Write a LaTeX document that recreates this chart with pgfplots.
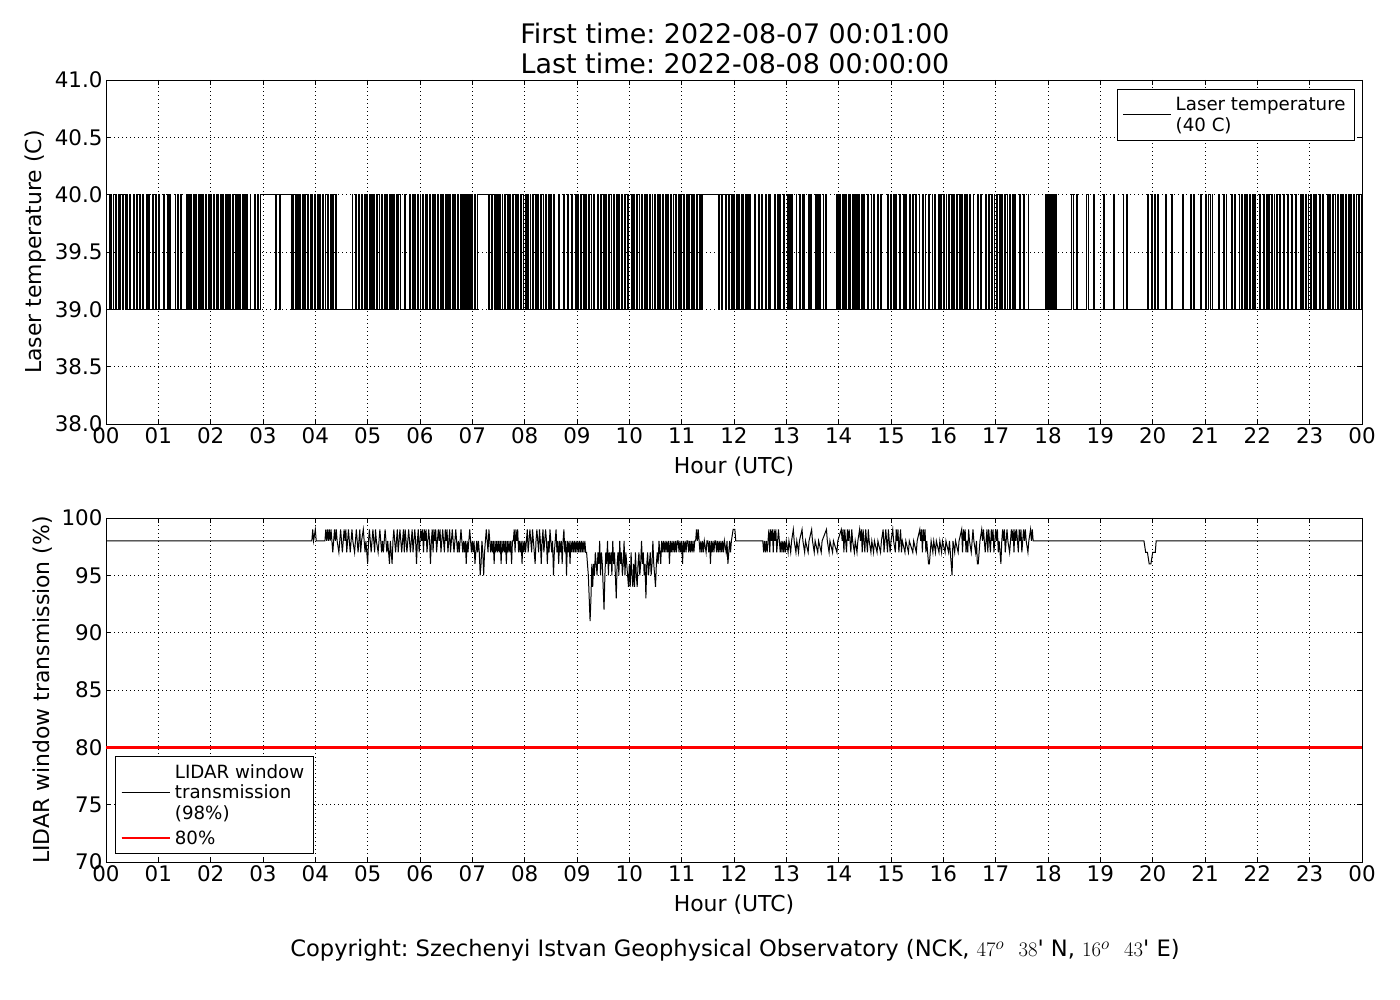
\documentclass[border=0pt]{standalone}
\usepackage{fontspec}
\setmainfont{DejaVu Sans}
\newfontfamily\dvnomap{DejaVu Sans}[Ligatures=TeXOff]
\usepackage{pgfplots}
\pgfplotsset{compat=1.18}
\frenchspacing
\pgfplotsset{
  lidarax/.style={
    scale only axis, width=1256bp, height=344bp,
    xmin=0, xmax=1440,
    xtick={0,60,...,1440},
    xticklabels={00,01,02,03,04,05,06,07,08,09,10,11,12,13,14,15,16,17,18,19,20,21,22,23,00},
    tick align=inside, major tick length=5bp,
    axis line style={line width=0.9bp},
    every tick/.style={black, line width=0.8bp},
    grid=major,
    major grid style={black, line width=0.7bp, dash pattern=on 1bp off 3bp},
    tick label style={font=\fontsize{21.5}{24}\selectfont},
    label style={font=\fontsize{22}{26}\selectfont},
    /pgf/number format/assume math mode=true,
    xlabel={Hour (UTC)},
    xlabel style={at={(axis description cs:0.5,-0.124)}, anchor=center},
    legend cell align=left,
    legend style={draw=black, line width=0.8bp, font=\fontsize{18.3}{20.5}\selectfont,
      cells={align=left}, inner xsep=5bp, inner ysep=3bp,
      nodes={inner xsep=4bp, inner ysep=5bp}},
    legend image code/.code={\draw[#1] (0bp,0bp) -- (37bp,0bp); \path (0bp,0bp) -- (48bp,0bp);},
  }
}
\begin{document}
\begin{tikzpicture}
\useasboundingbox (0,0) rectangle (1400bp,1000bp);
\node[anchor=base, font=\fontsize{27}{30}\selectfont] at (735bp,956.7bp) {First time: 2022-08-07 00:01:00};
\node[anchor=base, font=\fontsize{27}{30}\selectfont] at (735bp,926.7bp) {Last time: 2022-08-08 00:00:00};
\begin{axis}[lidarax, at={(106bp,576bp)}, anchor=south west,
  ymin=38, ymax=41, ytick={38,38.5,...,41},
  yticklabel style={/pgf/number format/.cd, fixed, fixed zerofill, precision=1},
  ylabel={Laser temperature (C)},
  ylabel style={at={(axis description cs:-0.0565,0.5)}, anchor=center},
  legend style={at={(1,1)}, anchor=north east, xshift=-7bp, yshift=-9bp},
]
\addplot[const plot, black, line width=0.8bp, forget plot] coordinates {
(1,40)(4,39)(5,40)(6,39)(8,40)(9,39)(11,40)(12,39)(14,40)(15,39)(17,40)(19,39)(20,40)(22,39)(23,40)(25,39)(27,40)(28,39)(31,40)(32,39)(35,40)(36,39)(38,40)(39,39)(42,40)(43,39)(46,40)(47,39)(49,40)(50,39)(53,40)(54,39)(57,40)(58,39)
(60,40)(61,39)(66,40)(67,39)(70,40)(71,39)(73,40)(74,39)(79,40)(80,39)(82,40)(83,39)(85,40)(86,39)(92,40)(93,39)(95,40)(96,39)(97,40)(98,39)(100,40)(101,39)(103,40)(104,39)(106,40)(107,39)(108,40)(109,39)(111,40)(112,39)(114,40)(115,39)(117,40)(118,39)
(120,40)(121,39)(123,40)(124,39)(126,40)(127,39)(128,40)(129,39)(131,40)(132,39)(134,40)(135,39)(137,40)(138,39)(139,40)(140,39)(142,40)(143,39)(145,40)(146,39)(148,40)(149,39)(151,40)(152,39)(153,40)(154,39)(156,40)(157,39)(159,40)(160,39)(161,40)(162,39)
(165,40)(166,39)(170,40)(171,39)(174,40)(175,39)(177,40)(194,39)(195,40)(199,39)(200,40)(213,39)
(214,40)(215,39)(217,40)(218,39)(220,40)(221,39)(222,40)(223,39)(225,40)(226,39)(228,40)(229,39)(231,40)(232,39)(234,40)(235,39)(236,40)(237,39)(239,40)(240,39)(242,40)(243,39)(245,40)(246,39)(248,40)(249,39)(251,40)(252,39)(254,40)(255,39)(257,40)(258,39)(260,40)(261,39)(263,40)(264,39)
(282,40)(283,39)(286,40)(287,39)(289,40)(290,39)(293,40)(294,39)(296,40)(297,39)(299,40)(300,39)(302,40)(303,39)
(304,40)(305,39)(307,40)(308,39)(310,40)(311,39)(313,40)(314,39)(316,40)(317,39)(319,40)(320,39)(322,40)(323,39)(325,40)(326,39)(327,40)(328,39)(330,40)(331,39)(333,40)(334,39)(335,40)(337,39)(342,40)(343,39)(348,40)(349,39)(351,40)(352,39)(354,40)(355,39)(357,40)(358,39)(360,40)(361,39)(363,40)(364,39)(366,40)(367,39)(368,40)(369,39)(371,40)(372,39)(374,40)(375,39)(377,40)(378,39)(380,40)(381,39)(383,40)(384,39)(386,40)(387,39)(389,40)(390,39)
(391,40)(392,39)(394,40)(395,39)(397,40)(398,39)(400,40)(401,39)(403,40)(404,39)(406,40)(407,39)(409,40)(410,39)(411,40)(412,39)(413,40)(414,39)(415,40)(416,39)(417,40)(418,39)(419,40)(420,39)(422,40)(424,39)
(426,40)(438,39)(439,40)(442,39)(443,40)(445,39)(446,40)(448,39)(449,40)(450,39)
(451,40)(452,39)(454,40)(455,39)(457,40)(458,39)(460,40)(461,39)(463,40)(464,39)(466,40)(467,39)(469,40)(470,39)(472,40)(473,39)(475,40)(476,39)(478,40)(479,39)(481,40)(482,39)(483,40)(484,39)(486,40)(487,39)(489,40)(490,39)(492,40)(493,39)(495,40)(496,39)(498,40)(499,39)(501,40)(502,39)(504,40)(505,39)(507,40)(508,39)(510,40)(511,39)(513,40)(514,39)
(519,40)(520,39)(524,40)(525,39)(529,40)(530,39)(534,40)(535,39)(538,40)(539,39)
(541,40)(542,39)(544,40)(545,39)(547,40)(548,39)(550,40)(551,39)(553,40)(554,39)(556,40)(557,39)(559,40)(560,39)(563,40)(564,39)(567,40)(568,39)(570,40)(571,39)(573,40)(574,39)(576,40)(577,39)(579,40)(580,39)(582,40)(583,39)(585,40)(586,39)(588,40)(589,39)(591,40)(592,39)(594,40)(595,39)(598,40)(599,39)(602,40)(603,39)(605,40)(606,39)(608,40)(609,39)(611,40)(612,39)(614,40)(615,39)(617,40)(618,39)(620,40)(621,39)(623,40)(624,39)(626,40)(627,39)(629,40)(630,39)(632,40)(633,39)(635,40)(636,39)(638,40)(639,39)(641,40)(642,39)(644,40)(645,39)(647,40)(648,39)(650,40)(651,39)(653,40)(654,39)(656,40)(657,39)(659,40)(660,39)(662,40)(663,39)(665,40)(666,39)(668,40)(669,39)(671,40)(672,39)(674,40)(675,39)(677,40)(678,39)(680,40)(681,39)(682,40)(683,39)
(684,40)(702,39)(703,40)(706,39)(707,40)(710,39)(711,40)(714,39)(715,40)(717,39)
(718,40)(719,39)(720,40)(721,39)(723,40)(724,39)(725,40)(726,39)(728,40)(729,39)(730,40)(731,39)(733,40)(734,39)(735,40)(736,39)(738,40)(739,39)(743,40)(744,39)(748,40)(749,39)(751,40)(752,39)(756,40)(757,39)(759,40)(760,39)(761,40)(762,39)(766,40)(767,39)(770,40)(771,39)(772,40)(773,39)(777,40)(778,39)(781,40)(782,39)(784,40)(785,39)(786,40)(787,39)(791,40)(792,39)(795,40)(796,39)(798,40)(799,39)(800,40)(801,39)(805,40)(806,39)(808,40)(809,39)(813,40)(814,39)(816,40)(817,39)(818,40)(819,39)(822,40)(823,39)(825,40)(826,39)(837,40)(838,39)(839,40)(840,39)(841,40)(842,39)(844,40)(845,39)(846,40)(847,39)(848,40)(849,39)(851,40)(852,39)(853,40)(854,39)(856,40)(857,39)(858,40)(859,39)(860,40)(861,39)(863,40)(864,39)(866,40)(867,39)(868,40)(869,39)(873,40)(874,39)(877,40)(878,39)(880,40)(881,39)(884,40)(885,39)(888,40)(889,39)(896,40)(897,39)(899,40)(900,39)(903,40)(904,39)(905,40)(906,39)(910,40)(911,39)(914,40)(915,39)(917,40)(918,39)(921,40)(922,39)(925,40)(926,39)(928,40)(929,39)(932,40)(933,39)(936,40)(937,39)(939,40)(940,39)(943,40)(944,39)(947,40)(948,39)(950,40)(951,39)
(954,40)(955,39)(957,40)(958,39)(960,40)(961,39)(963,40)(964,39)(966,40)(967,39)(969,40)(970,39)(972,40)(973,39)(975,40)(976,39)(978,40)(979,39)(981,40)(982,39)(984,40)(985,39)(987,40)(988,39)(990,40)(991,39)(994,40)(995,39)(999,40)(1000,39)(1003,40)(1004,39)(1008,40)(1009,39)(1012,40)(1013,39)(1015,40)(1016,39)(1018,40)(1019,39)(1021,40)(1022,39)(1024,40)(1025,39)(1027,40)(1028,39)(1030,40)(1031,39)(1033,40)(1034,39)(1036,40)(1037,39)(1039,40)(1040,39)(1042,40)(1043,39)(1047,40)(1048,39)(1052,40)(1053,39)(1057,40)(1058,39)
(1077,40)(1078,39)(1079,40)(1080,39)(1081,40)(1082,39)(1083,40)(1084,39)(1085,40)(1086,39)(1087,40)(1088,39)(1089,40)(1090,39)
(1107,40)(1109,39)(1113,40)(1114,39)(1124,40)(1126,39)(1132,40)(1133,39)(1143,40)(1145,39)(1155,40)(1156,39)(1166,40)(1167,39)(1170,40)(1171,39)
(1194,40)(1195,39)(1199,40)(1200,39)(1202,40)(1203,39)(1205,40)(1206,39)(1215,40)(1216,39)(1222,40)(1223,39)(1234,40)(1235,39)(1243,40)(1244,39)(1247,40)(1248,39)(1255,40)(1256,39)(1261,40)(1262,39)(1264,40)(1266,39)(1268,40)(1269,39)(1275,40)(1276,39)(1281,40)(1282,39)(1284,40)(1285,39)
(1290,40)(1291,39)(1294,40)(1295,39)(1299,40)(1300,39)(1302,40)(1303,39)(1305,40)(1306,39)(1308,40)(1309,39)(1311,40)(1312,39)(1314,40)(1315,39)(1317,40)(1318,39)(1322,40)(1323,39)(1327,40)(1328,39)(1330,40)(1331,39)(1333,40)(1334,39)(1336,40)(1337,39)(1339,40)(1340,39)(1342,40)(1343,39)(1345,40)(1346,39)(1350,40)(1351,39)(1355,40)(1356,39)(1359,40)(1360,39)(1364,40)(1365,39)(1369,40)(1370,39)(1372,40)(1373,39)(1375,40)(1376,39)(1378,40)(1379,39)(1381,40)(1382,39)(1384,40)(1385,39)(1387,40)(1388,39)(1391,40)(1392,39)(1395,40)(1396,39)(1400,40)(1401,39)(1403,40)(1404,39)(1406,40)(1407,39)(1409,40)(1410,39)(1412,40)(1413,39)(1415,40)(1416,39)(1418,40)(1419,39)(1421,40)(1422,39)(1424,40)(1425,39)(1427,40)(1428,39)(1430,40)(1431,39)(1433,40)(1434,39)(1436,40)(1437,39)(1439,40)(1440,39)
};
\addlegendimage{black, line width=1bp}
\addlegendentry{Laser temperature\\(40 C)}
\end{axis}
\begin{axis}[lidarax, at={(106bp,138bp)}, anchor=south west,
  ymin=70, ymax=100, ytick={70,75,...,100},
  ylabel={LIDAR window transmission (\%)},
  ylabel style={at={(axis description cs:-0.0502,0.5)}, anchor=center},
  legend style={at={(0,0)}, anchor=south west, xshift=9bp, yshift=8bp},
]
\addplot[black, line width=1bp] coordinates {
(1,98)(236,98)(237,99)(238,98)(240,99)(241,98)(251,98)(252,99)(253,98)(254,99)(255,98)(256,99)(257,98)(258,99)(259,98)(260,97)(261,98)(262,99)(263,98)(264,99)(265,98)(267,97)(268,98)(269,99)(270,98)(271,97)(272,98)(273,99)(274,98)(275,99)(276,97)(277,98)(278,99)(279,98)(280,97)(281,98)(282,99)(283,98)(285,97)(286,98)(287,99)(288,98)(289,97)(290,98)(291,99)(292,97)(293,98)(295,99)(296,98)(297,97)(298,98)(300,96)(301,98)(302,99)(303,98)(304,97)(305,98)(306,99)(307,98)(308,97)(309,99)(310,98)(312,97)(313,98)(314,99)(315,98)(316,97)(317,98)(318,97)(319,98)(320,99)(321,98)(322,97)(323,98)(325,96)(326,98)(327,97)(328,96)(329,98)(330,99)(331,98)(332,97)(333,98)(334,99)(335,97)(336,98)(337,99)(338,98)(339,97)(340,98)(341,99)(342,97)(343,99)(344,98)(345,97)(346,98)(347,99)(348,98)(349,97)(350,98)(351,99)(352,97)(353,98)(354,99)(355,98)(356,96)(357,98)(358,99)(359,97)
(360,98)(361,99)(362,98)(363,99)(364,97)(365,99)(366,98)(367,99)(368,97)(369,98)(370,99)(371,98)(372,96)(373,98)(374,99)(375,97)(376,99)(377,98)(378,99)(379,97)(380,98)(381,99)(382,98)(383,99)(384,97)(385,98)(386,99)(387,98)(388,97)(389,99)(390,98)(391,99)(392,97)(393,98)(394,99)(395,97)(396,98)(397,99)(398,98)(399,97)(400,98)(401,99)(402,98)(403,97)(404,98)(405,97)(406,98)(407,99)(408,98)(409,97)(410,98)(411,97)(412,98)(413,96)(414,98)(415,97)(416,98)(417,99)(418,98)(419,97)(420,98)
(421,97)(422,98)(423,96)(424,97)(425,98)(426,97)(427,98)(428,97)(429,95)(430,96)(431,98)(432,97)(433,95)(434,97)(435,98)(436,99)(437,98)(438,97)(439,99)(440,98)(441,97)(442,98)(443,97)(444,98)(445,96)(446,98)(447,97)(448,98)(449,97)(450,98)(451,97)(452,98)(453,96)(454,98)(455,97)(456,98)(457,97)(458,98)(459,96)(460,98)(461,97)(462,98)(463,97)(464,98)(465,96)(466,98)(467,98)(468,99)(469,97)(470,99)(471,98)(472,99)(473,97)(474,98)(475,97)(476,98)(477,96)(478,98)(479,97)(480,98)
(481,97)(482,98)(483,99)(484,97)(485,98)(486,99)(487,98)(488,97)(489,99)(490,98)(491,97)(492,96)(493,98)(494,99)(495,98)(496,97)(497,99)(498,98)(499,96)(500,98)(501,99)(502,97)(503,98)(504,99)(505,98)(506,96)(507,98)(508,97)(509,99)(510,98)(511,97)(512,98)(513,95)(514,97)(515,98)(516,99)(517,97)(518,98)(519,96)(520,98)(521,97)(522,98)(523,96)(524,98)(525,99)(526,97)(527,98)(528,95)(529,98)(530,97)(531,98)(532,96)(533,98)(534,97)(535,98)(536,97)(537,98)(538,97)(539,98)(540,97)
(541,98)(542,97)(543,98)(544,97)(545,98)(546,97)(547,98)(548,97)(549,98)(550,97)(551,97)(552,96)(553,95)(554,93)(555,91)(556,93)(557,96)
(558,94)(559,96)(560,95)(561,97)(562,96)(563,95)(564,97)(565,96)(566,98)(567,95)(568,97)(569,96)(570,94)(571,92)(572,95)(573,97)(574,96)(575,98)(576,95)(577,97)(578,96)(579,97)(580,95)(581,98)(582,96)(583,97)(584,95)(585,93)(586,96)(587,97)(588,95)(589,98)(590,96)(591,97)(592,95)(593,96)(594,98)(595,95)(596,97)(597,96)(598,95)(599,94)(600,96)(601,94)(602,97)(603,95)(604,94)(605,96)(606,94)(607,97)(608,95)(609,94)(610,96)(611,97)(612,95)(613,96)(614,98)(615,96)(616,97)(617,95)(618,96)(619,93)(620,96)(621,97)(622,95)(623,96)(624,97)(625,95)(626,96)(627,98)(628,96)(629,95)(630,94)(631,96)(632,97)(633,96)(634,98)(635,97)(636,96)(637,98)(638,97)(639,98)(640,97)
(641,98)(642,97)(643,98)(644,97)(645,98)(646,96)(647,98)(648,97)(649,98)(650,97)(651,98)(652,97)(653,98)(654,97)(655,98)(656,98)(657,97)(658,98)(659,97)(660,98)(661,96)(662,98)(663,97)(664,98)(665,97)(666,98)(667,98)(668,97)(669,98)(670,97)(671,98)(672,97)(673,98)(674,97)(675,98)(676,98)(677,99)(678,98)(679,99)(680,98)(681,97)(682,98)(683,97)(684,98)(685,97)(686,98)(688,97)(689,98)(690,98)(691,97)(692,98)(693,96)(694,98)(695,97)(696,98)(697,97)(698,98)(699,98)
(700,97)(701,98)(702,97)(703,98)(704,97)(705,98)(706,97)(707,98)(708,97)(709,98)(711,97)(712,98)(713,96)(714,97)(715,98)(716,97)(717,98)(719,99)(721,99)(722,98)(753,98)
(754,97)(755,98)(756,97)(757,98)(758,97)(759,98)(760,99)(761,97)(762,99)(763,98)(764,99)(765,97)(766,99)(767,98)(768,99)(769,97)(770,98)(771,99)(772,98)(773,97)(774,98)(775,97)(776,98)(777,97)(778,98)(779,97)(780,98)(782,97)(783,98)(785,97)(786,98)(788,99)(789,98)(791,97)(792,98)(794,97)(795,98)(798,99)(799,98)(801,97)(802,98)(805,97)(806,98)(809,99)(810,98)(812,97)(813,98)(816,97)(817,98)(820,97)(821,98)(826,99)(827,98)(829,97)(830,98)(833,97)(834,98)(838,97)(839,98)
(843,99)(844,98)(845,99)(846,97)(847,99)(848,98)(849,97)(850,99)(851,98)(852,99)(853,98)(854,97)(855,99)(856,98)(858,97)(859,98)(861,97)(862,98)(864,99)(865,98)(866,99)(867,97)(868,99)(869,98)(870,97)(871,99)(872,98)(873,97)(874,99)(875,98)(877,97)(878,98)(880,97)(881,98)(884,97)(885,98)(888,97)(889,98)(891,99)(892,97)(893,98)(894,99)(895,98)(896,97)(897,99)(898,98)(899,97)(900,98)(902,99)(903,98)(905,97)(906,99)(907,98)(908,99)(909,97)(910,98)(911,99)(912,97)(913,98)(916,97)(917,98)(920,97)(921,98)(925,97)(926,98)(929,97)(930,98)
(933,99)(934,98)(935,99)(936,97)(937,99)(938,98)(939,99)(940,97)(941,98)(943,96)(944,96)(945,97)(946,98)(948,97)(949,98)(951,97)(952,98)(955,97)(956,98)(958,97)(959,98)(962,97)(963,98)(966,97)(967,98)(970,95)(971,98)(973,97)(974,98)(977,97)(978,98)(981,99)(982,97)(983,99)(984,98)(985,99)(986,97)(987,98)(988,97)(989,99)(990,98)(992,97)(993,98)(994,99)(995,98)(997,97)(998,98)(999,96)(1000,96)(1001,97)(1002,98)(1004,99)(1005,98)(1006,99)(1007,98)(1008,97)(1009,98)(1010,99)(1011,97)(1012,99)(1013,98)(1014,97)(1015,99)(1016,98)(1017,99)(1018,97)(1019,98)(1020,99)(1021,98)(1022,99)(1023,97)(1024,98)(1026,96)(1027,98)(1028,99)(1029,98)(1030,99)(1031,97)(1032,98)(1033,99)(1034,98)(1036,97)(1037,98)(1038,99)(1039,98)(1040,99)(1041,97)(1042,99)(1043,98)(1044,99)(1045,98)(1046,97)(1047,99)(1048,98)(1049,99)(1050,97)(1051,98)(1052,99)(1053,98)(1054,99)(1055,98)(1057,97)(1058,98)(1060,99)(1061,98)(1062,99)(1063,98)
(1190,98)(1192,97)(1194,97)(1196,96)(1198,96)(1200,97)(1203,97)(1204,98)(1440,98)
};
\addlegendentry{LIDAR window\\transmission\\(98\%)}
\addplot[red, line width=2.5bp] coordinates {(0,80)(1440,80)};
\addlegendentry{80\%}
\end{axis}
\node[anchor=base, font=\fontsize{22.7}{26}\selectfont] at (735bp,43.3bp) {Copyright: Szechenyi Istvan Geophysical Observatory (NCK, $47^o$\ \ $38${\dvnomap '} N, $16^o$\ \ $43${\dvnomap '} E)};
\end{tikzpicture}
\end{document}
